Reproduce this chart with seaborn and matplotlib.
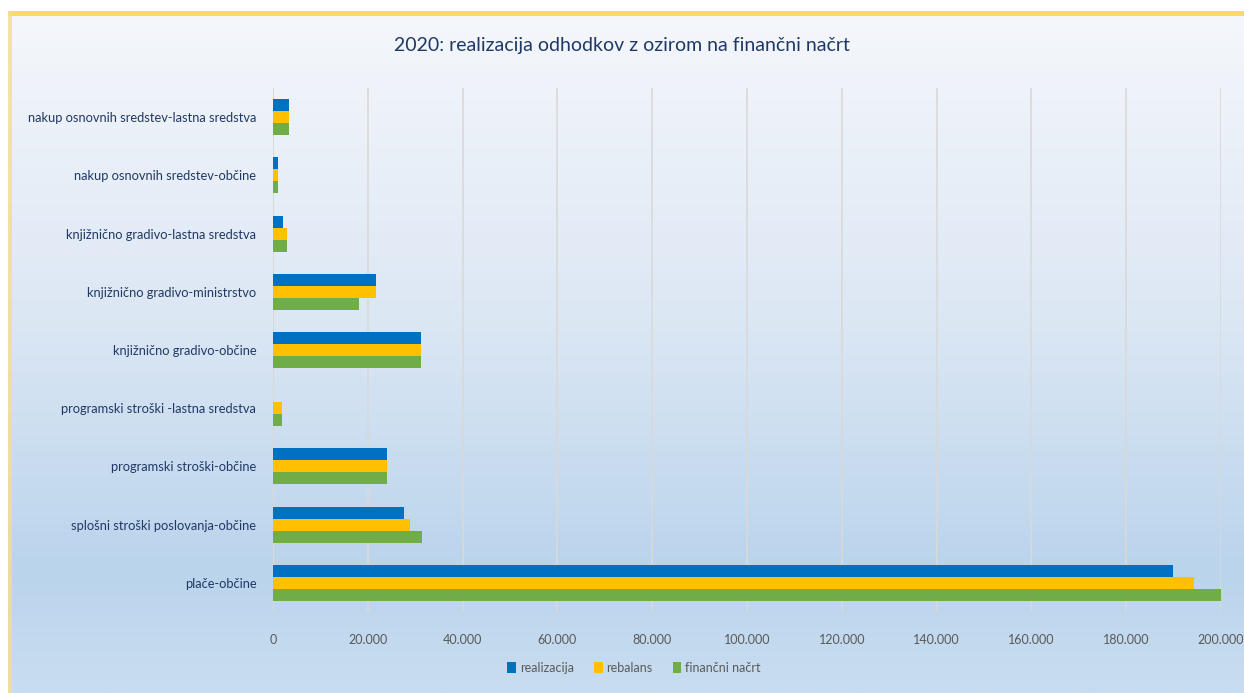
import numpy as np
import pandas as pd
import matplotlib
matplotlib.use("Agg")
import matplotlib.pyplot as plt
import seaborn as sns
from matplotlib.colors import LinearSegmentedColormap
from matplotlib.patches import Rectangle
from matplotlib.ticker import FuncFormatter

# podatki (odčitani s slike)
kategorije = [
    "nakup osnovnih sredstev-lastna sredstva",
    "nakup osnovnih sredstev-občine",
    "knjižnično gradivo-lastna sredstva",
    "knjižnično gradivo-ministrstvo",
    "knjižnično gradivo-občine",
    "programski stroški -lastna sredstva",
    "programski stroški-občine",
    "splošni stroški poslovanja-občine",
    "plače-občine",
]
realizacija = [3400, 1000, 2100, 21800, 31300, 0, 24100, 27600, 189900]
rebalans = [3400, 1000, 3000, 21800, 31300, 1900, 24100, 28900, 194400]
financni_nacrt = [3400, 1000, 3000, 18200, 31300, 1900, 24100, 31500, 200100]
serije = ["realizacija", "rebalans", "finančni načrt"]
barve = ["#0070C0", "#FFC000", "#70AD47"]

df = pd.DataFrame({
    "kategorija": kategorije * 3,
    "vrednost": realizacija + rebalans + financni_nacrt,
    "serija": [s for s in serije for _ in kategorije],
})

sns.set_theme(style="white")
plt.rcParams["font.family"] = ["Lato", "DejaVu Sans"]

fig = plt.figure(figsize=(12.44, 6.93), dpi=100)
W, H = 1244, 693

# ozadje z gradientom
bg = fig.add_axes([8 / W, 0, 1 - 8 / W, 1 - 12 / H])
cmap = LinearSegmentedColormap.from_list(
    "bg", [(0, "#F5F7FB"), (0.45, "#DCE7F4"), (0.82, "#BAD4EC"), (1, "#C9DDF0")])
grad = np.linspace(0, 1, 256).reshape(-1, 1)
bg.imshow(grad, aspect="auto", cmap=cmap, extent=[0, 1, 0, 1])
bg.set_axis_off()
fig.patches.append(Rectangle((8 / W, 1 - 16 / H), 1, 5 / H, transform=fig.transFigure,
                             facecolor="#FFD966", edgecolor="none", zorder=5))
fig.patches.append(Rectangle((8 / W, 0), 4 / W, 1 - 12 / H, transform=fig.transFigure,
                             facecolor="#F6DE8C", edgecolor="none", zorder=5, alpha=0.8))

ax = fig.add_axes([273 / W, (H - 612) / H, (1221 - 273) / W, (612 - 88) / H])
ax.patch.set_alpha(0)
sns.barplot(data=df, y="kategorija", x="vrednost", hue="serija", order=kategorije,
            hue_order=serije, palette=barve, orient="h", width=0.62, ax=ax,
            saturation=1, edgecolor="none", errorbar=None)

ax.set_xlim(0, 200000)
ax.set_xticks(np.arange(0, 200001, 20000))
ax.xaxis.set_major_formatter(FuncFormatter(lambda v, p: f"{int(v):,}".replace(",", ".")))
ax.grid(axis="x", color="#D9D9D9", linewidth=1.2)
ax.set_axisbelow(True)
for s in ax.spines.values():
    s.set_visible(False)
ax.axvline(0, color="#D9D9D9", linewidth=1.5, zorder=0)
ax.set_xlabel("")
ax.set_ylabel("")
ax.tick_params(axis="x", colors="#595959", labelsize=9, pad=16, length=0)
ax.tick_params(axis="y", colors="#203864", labelsize=9.3, pad=12, length=0)

ax.legend(loc="center", bbox_to_anchor=(634 / W, (H - 668) / H),
          bbox_transform=fig.transFigure, ncol=3, frameon=False,
          fontsize=9, handlelength=0.7, handleheight=1.0, handletextpad=0.3,
          columnspacing=1.6, labelcolor="#595959")

fig.text(0.5, 1 - 46 / H, "2020: realizacija odhodkov z ozirom na finančni načrt",
         ha="center", va="center", fontsize=14, color="#1F3864")

fig.savefig("out.png", dpi=100)
